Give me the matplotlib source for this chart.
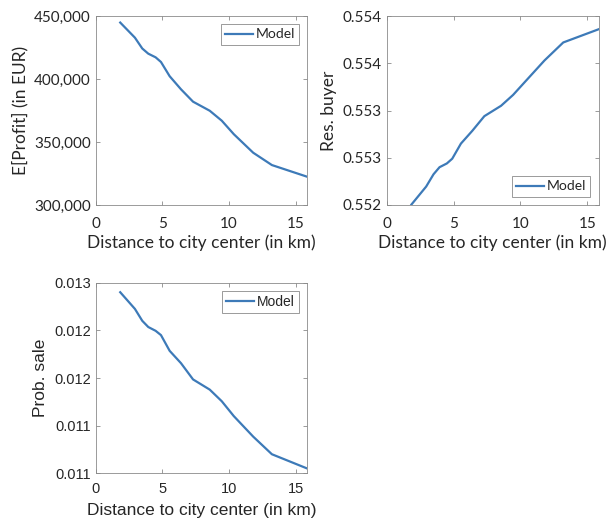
import matplotlib
matplotlib.use("Agg")
import matplotlib.pyplot as plt
import numpy as np

# distance grid (km) shared by all three panels
distance = [1.85, 2.95, 3.5, 3.95, 4.5, 4.9, 5.55, 6.4, 7.3, 8.55, 9.45, 10.35, 11.8, 13.2, 15.85]

profit = [444800, 432800, 424200, 420100, 417200, 413500, 402200, 391800,
          382000, 374800, 366900, 356200, 341500, 331700, 322400]

res_buyer = [0.552005, 0.552195, 0.552325, 0.552400, 0.552440, 0.552490, 0.552650,
             0.552785, 0.552940, 0.553050, 0.553165, 0.553305, 0.553530, 0.553720, 0.553860]

prob_sale = [0.01290, 0.012725, 0.012600, 0.012535, 0.012495, 0.012450, 0.012285,
             0.012155, 0.011985, 0.011878, 0.011756, 0.011600, 0.011385, 0.011200, 0.011050]

x_ticks = [0, 5, 10, 15]
profit_ticks = [300000, 350000, 400000, 450000]
profit_labels = ["300,000", "350,000", "400,000", "450,000"]
buyer_ticks = [0.552, 0.5525, 0.553, 0.5535, 0.554]
buyer_labels = ["0.552", "0.553", "0.553", "0.554", "0.554"]
sale_ticks = [0.011, 0.0115, 0.012, 0.0125, 0.013]
sale_labels = ["0.011", "0.011", "0.012", "0.012", "0.013"]

line_col = "#3d7ab8"
txt_col = "#262626"
ax_col = "#8a8a8a"

fig = plt.figure(figsize=(6.08, 5.24), dpi=100)
W, H = 608.0, 524.0


def make_ax(l, t, r, b):
    return fig.add_axes([l / W, 1 - b / H, (r - l) / W, (b - t) / H])


def style(ax, font, tsize, xpad, xlpad, xlim, ylim, yt, ylab, ylabel, legloc):
    ax.set_xlim(*xlim)
    ax.set_ylim(*ylim)
    ax.set_xticks(x_ticks)
    ax.set_xticklabels([str(v) for v in x_ticks], fontfamily=font, fontsize=tsize, color=txt_col)
    ax.set_yticks(yt)
    ax.set_yticklabels(ylab, fontfamily=font, fontsize=tsize, color=txt_col)
    ax.tick_params(direction="in", top=True, right=True, length=3, width=0.6,
                   color=ax_col)
    ax.tick_params(axis="x", pad=xpad)
    ax.tick_params(axis="y", pad=3.5)
    for s in ax.spines.values():
        s.set_color(ax_col)
        s.set_linewidth(0.6)
    ax.set_xlabel("Distance to city center (in km)", fontfamily=font, fontsize=12.5,
                  color=txt_col, labelpad=xlpad)
    ax.set_ylabel(ylabel, fontfamily=font, fontsize=12.5, color=txt_col, labelpad=4)
    leg = ax.legend(loc=legloc, prop={"family": font, "size": 10}, fancybox=False,
                    handlelength=2.0, handletextpad=0.2, borderpad=0.3,
                    borderaxespad=0.6, framealpha=1)
    leg.get_frame().set_edgecolor(ax_col)
    leg.get_frame().set_linewidth(0.6)
    for t in leg.get_texts():
        t.set_color(txt_col)


xl = (0, 15.85)

ax1 = make_ax(95.5, 16, 307.3, 205)
ax1.plot(distance, profit, color=line_col, lw=1.6, label="Model")
style(ax1, "Lato", 11, 9, 2, xl, (300000, 450000), profit_ticks, profit_labels,
      "E[Profit] (in EUR)", "upper right")

ax2 = make_ax(386.7, 16, 598.7, 205)
ax2.plot(distance, res_buyer, color=line_col, lw=1.6, label="Model")
style(ax2, "Lato", 11, 9, 2, xl, (0.552, 0.554), buyer_ticks, buyer_labels,
      "Res. buyer", "lower right")

ax3 = make_ax(95.5, 282.7, 307.3, 473.3)
ax3.plot(distance, prob_sale, color=line_col, lw=1.6, label="Model")
style(ax3, "Liberation Sans", 10.5, 6.5, 4.5, xl, (0.011, 0.013), sale_ticks, sale_labels,
      "Prob. sale", "upper right")

fig.savefig("out.png", dpi=100)
